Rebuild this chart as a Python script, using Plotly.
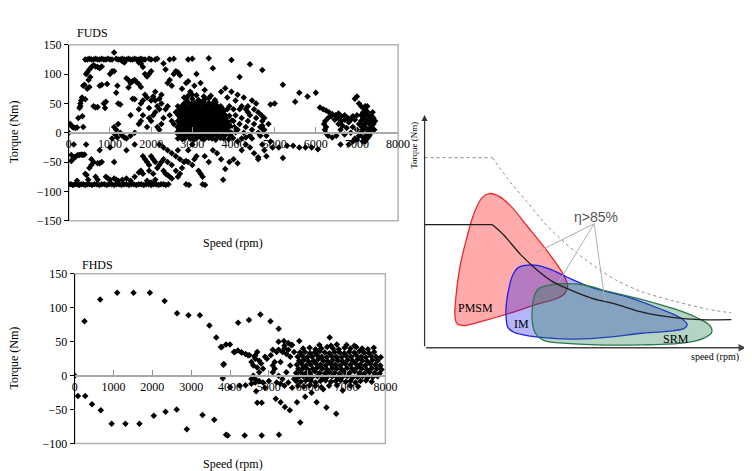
import plotly.graph_objects as go

W, H = 752, 471
SERIF = "Liberation Serif"
SANS = "Liberation Sans"

# ---------------- FUDS data (speed rpm, torque Nm) ----------------
fuds_top_row = [(400,125),(450,125),(500,126),(550,125),(600,125),(650,126),(700,125),(750,125),(800,126),
    (850,125),(900,125),(950,126),(1000,125),(1050,125),(1150,126),(1200,125),(1250,125),(1300,126),
    (1350,125),(1400,125),(1450,126),(1500,125),(1550,125),(1600,126),(1650,125),(1700,125),(1750,126),
    (1800,125),(1850,125),(1950,126),(2000,125),(2100,125),(2150,126),(2450,125),(2550,126),(2900,125),
    (3000,126),(1100,137)]
fuds_bottom_row = [(0,-88),(50,-88),(100,-89),(150,-88),(200,-88),(250,-89),(300,-88),(350,-88),(400,-89),
    (450,-88),(500,-88),(560,-89),(620,-88),(680,-88),(740,-89),(800,-88),(860,-88),(920,-89),(980,-88),
    (1040,-88),(1100,-89),(1160,-88),(1220,-88),(1280,-89),(1340,-88),(1400,-88),(1460,-89),(1520,-88),
    (1580,-88),(1640,-89),(1700,-88),(1760,-88),(1820,-89),(1880,-88),(1940,-88),(2000,-89),(2060,-88),
    (2120,-88),(2180,-89),(2240,-88),(2300,-88),(2360,-89),(2420,-88),(2850,-88),(2920,-89),(3250,-88),
    (3310,-89)]
fuds_left = [(0,0),(30,15),(60,12),(90,10),(120,9),(160,8),(200,9),(60,-38),(100,-45),(140,-42),(180,-40),
    (220,-38),(260,-38),(300,-37),(340,-38),(380,-37),(60,-48),(120,-20),(230,25),(260,42),(280,50),
    (300,55),(320,60),(280,45),(330,28),(350,10),(420,-20),(430,-72),(470,-80),(200,-82),(350,80),
    (380,82),(420,100),(450,103),(500,108),(550,112),(600,115),(650,113),(700,112),(750,110),(800,113),
    (480,90),(520,95),(400,57),(450,75),(500,78),(600,45),(650,43),(700,44),(750,80),(800,82),(850,50),
    (880,42),(900,53),(930,83),(1000,100),(1050,105),(1100,105),(1150,68),(1180,80),(1200,50),(1250,48),
    (1300,122),(1350,120),(1400,93),(1450,90),(1500,85),(1550,88),(1600,90),(1650,86),(1700,83),
    (1750,78),(1450,77),(1550,58),(1600,57),(1700,120),(1750,118),(1800,112),(1850,100),(1900,96),
    (1950,100),(2000,105),(1800,55),(1850,65),(1900,60),(1950,42),(2000,55),(2050,62),(2100,70),
    (2150,45),(2200,58),(2250,65),(2300,118),(2350,108),(2400,85),(2450,90),(2500,80),(2550,100),
    (2600,105),(2650,103),(2700,98),(2750,75),(2800,60),(2850,85),(2900,88),(2950,70),(3000,65),
    (3050,80),(3100,100),(3200,85),(3300,73),(3400,127),(3500,110),(3700,70),(3800,76),(3950,124),
    (4150,95),(4400,117),(4700,107),(5200,82),(5500,53),(5600,68),(5800,62),(6000,68),(5000,50),(4900,48)]
fuds_mid_left = [(1100,10),(1150,5),(1200,15),(1250,0),(1300,-5),(1350,-8),(1400,-10),(1050,-10),
    (1000,-25),(1100,-50),(1500,-5),(1600,-20),(1700,15),(1750,20),(1800,30),(1900,10),(1950,25),
    (2000,20),(2050,30),(2100,35),(2150,10),(2200,5),(2250,15),(2300,25),(2350,40),(2400,45),(2450,30),
    (2500,20),(2550,15),(2600,35),(2650,45),(2200,40),(2250,50),(2100,55),(1700,40),(1750,50),(1600,0),
    (1500,30),(1400,-30),(1130,-3),(1180,-8)]
fuds_negative = [(1300,-80),(1400,-78),(1500,-82),(1600,-75),(1700,-68),(1750,-65),(1800,-70),(1100,-78),
    (1150,-80),(1200,-82),(900,-75),(950,-78),(1000,-80),(700,-80),(650,-75),(600,-50),(700,-52),
    (750,-52),(800,-50),(500,-60),(550,-55),(400,-70),(550,-45),(750,-30),(1800,-40),(1850,-45),
    (1900,-50),(1950,-55),(2000,-40),(2050,-45),(2100,-50),(2150,-60),(2200,-55),(2250,-50),(2300,-65),
    (2350,-70),(2400,-72),(2450,-75),(2500,-78),(2200,-20),(2300,-25),(2400,-30),(2500,-35),(2600,-40),
    (2650,-30),(2700,-45),(2750,-60),(2800,-50),(2850,-48),(2900,-50),(3000,-55),(3050,-45),(3100,-40),
    (3150,-65),(3200,-70),(3250,-75),(3300,-40),(3400,-50),(3500,-30),(3600,-35),(3700,-45),(3750,-80),
    (3800,-62),(3900,-50),(4000,-45),(4100,-52),(4200,-30),(4300,-20),(4400,-25),(4450,-10),(4500,-35),
    (4600,-42),(4700,-20),(2100,-80),(2000,-85),(1900,-82),(1950,-65),(2050,-70),(2600,-65),(2700,-70),
    (2650,-75),(2500,-55),(2400,-50),(2300,-45),(2900,-30),(3000,-20),(4750,-30),(4800,-40),(4950,-25),
    (5100,-25),(5200,-43),(5300,-22),(5450,-22),(5600,-25),(5750,-25),(5900,-25),(6050,-28),(4600,-45),
    (4900,-15),(4800,-5),(4750,5),(4850,15)]
fuds_cluster = [
    (2650,-10),(2760,-11),(2830,-9),(2950,-10),(3040,-12),(3110,-9),(3230,-10),(3290,-11),(3400,-9),
    (3480,-10),(3570,-12),(3690,-9),(3760,-10),(3880,-11),(3990,-9),
    (2700,-5),(2790,-4),(2900,-6),(2980,-5),(3070,-3),(3160,-5),(3250,-6),(3340,-4),(3430,-5),(3530,-3),
    (3620,-5),(3710,-6),(3800,-4),(3920,-5),
    (2620,0),(2720,1),(2810,-1),(2880,0),(2960,2),(3050,0),(3130,-1),(3210,1),(3300,0),(3370,2),(3460,0),
    (3550,-1),(3640,1),(3730,0),(3840,2),(3950,0),(4050,1),
    (2680,5),(2760,6),(2850,4),(2930,5),(3010,7),(3090,5),(3170,4),(3260,6),(3330,5),(3420,4),(3510,6),
    (3590,5),(3680,7),(3770,5),(3860,4),
    (2640,10),(2730,11),(2820,9),(2900,10),(2990,12),(3070,10),(3150,9),(3240,11),(3310,10),(3400,9),
    (3490,11),(3580,10),(3660,12),(3750,10),(3830,9),(3920,11),(4020,10),
    (2690,15),(2780,16),(2860,14),(2950,15),(3030,17),(3120,15),(3200,14),(3280,16),(3370,15),(3450,14),
    (3540,16),(3620,15),(3710,17),(3800,15),(3890,14),
    (2650,20),(2740,21),(2830,19),(2910,20),(3000,22),(3080,20),(3160,19),(3250,21),(3330,20),(3420,19),
    (3500,21),(3590,20),(3670,22),(3760,20),(3850,19),(3960,21),
    (2700,25),(2790,26),(2870,24),(2960,25),(3040,27),(3130,25),(3210,24),(3300,26),(3380,25),(3470,24),
    (3550,26),(3640,25),(3730,27),(3820,25),
    (2660,30),(2750,31),(2840,29),(2930,30),(3010,32),(3100,30),(3180,29),(3270,31),(3350,30),(3440,29),
    (3520,31),(3610,30),(3700,32),(3790,30),(3900,29),
    (2720,35),(2810,36),(2890,34),(2980,35),(3070,37),(3150,35),(3240,34),(3320,36),(3410,35),(3500,34),
    (3580,36),(3670,35),(3760,37),
    (2680,40),(2770,41),(2860,39),(2950,40),(3030,42),(3120,40),(3200,39),(3290,41),(3370,40),(3460,39),
    (3540,41),(3630,40),(3720,42),(3850,40),
    (2740,45),(2830,46),(2920,44),(3000,45),(3090,47),(3170,45),(3260,44),(3340,46),(3430,45),(3510,44),
    (3600,46),(3690,45),
    (2800,50),(2900,52),(2980,49),(3060,51),(3150,50),(3230,52),(3320,49),(3400,51),(3490,50),(3570,52),
    (2850,57),(3000,58),(3150,56),(3300,57),(3400,59),(3550,56),(2900,63),(3100,64),(3280,62),(3450,63)]
fuds_cluster2 = [(4100,5),(4150,15),(4200,25),(4250,0),(4300,10),(4350,20),(4400,30),(4450,5),(4500,15),
    (4550,25),(4600,0),(4650,10),(4700,20),(4720,5),(4680,30),(4600,35),(4500,40),(4400,-5),(4300,-8),
    (4200,-10),(4150,40),(4050,30),(4000,20),(4100,-15),(4350,45),(4550,50),(4450,55),(4650,-5),
    (4700,12),(4750,25),(3850,60),(3900,45),(3950,70),(4000,40),(4050,55),(4100,65),(4200,45),(4250,60),
    (4300,40),(4350,35),(3800,30)]
fuds_right = [(6100,43),(6180,40),(6250,38),(6320,35),(6400,32),(6480,30),(6550,33),(6620,28),(6700,30),
    (6780,25),(6850,22),(6900,28),(6950,22),(7000,30),(6300,25),(6380,28),(6460,22),(6540,25),(6620,20),
    (6700,22),(6200,15),(6220,5),(6250,10),(6240,0),(6230,20),(6300,-5),(6400,-8),(6500,-5),(6600,5),
    (6550,15),(6650,12),(6700,-3),(6750,8),(6800,18),(6850,0),(6900,10),(6950,-10),(6600,-20),(6800,-20),
    (6900,-15),(7000,-12),(7050,-5),(7000,5),(7050,15),(7000,62),(6950,58),(7050,50),(7100,45),
    (7150,35),(7200,45),(7250,45),(7100,0),(7150,5),(7200,10),(7250,0),(7300,15),(7350,20),(7400,25),
    (7100,20),(7150,25),(7200,30),(7250,20),(7300,30),(7350,10),(7400,15),(7420,5),(7380,35),(7280,5),
    (7180,15),(7120,10),(7220,-5),(7300,-5),(7250,-10),(7200,-15),(7330,25),(7260,35),(7340,0),
    (7150,-8),(7200,22),(7280,28),(7360,28),(7100,30),(7440,20),(7220,38),(7180,40),(7140,-15)]

# ---------------- FHDS data ----------------
fhds_arcs = [(0,0),(252,80),(657,112),(1094,122),(1515,122),(1936,122),(2315,110),(2635,92),(2929,89),
    (3224,89),(3468,74),(3645,56),(3763,42),(3897,46),(3838,17),(3813,-4),
    (84,-30),(270,-30),(446,-42),(673,-51),(951,-71),(1306,-71),(1667,-71),(2037,-59),(2340,-53),
    (2626,-50),(2886,-79),(3291,-58),(3594,-65),(3897,-87),(3939,-88),(4377,-88),(4815,-88),(5260,-87),
    (4209,78),(4487,82),(4781,90),(5042,80),(5253,69),(5387,51),(5573,45),(5783,51),(6566,56),
    (3788,42),(3998,46),(4124,35),(4293,34),(4462,30),(4629,28),(3830,16),
    (4000,-17),(4250,-15),(4400,-14),(4550,-12),(4650,-10),(4672,-23),(4815,-40),(5177,-34),(5303,-39),
    (5412,-46),(5539,-51),(5724,-39),(5808,-69),(5934,-31),(6229,-39),(6482,-47),(6734,-56)]
fhds_mid = [(4950,25),(5050,30),(5100,38),(5150,10),(5200,35),(5250,38),(5300,20),(5350,35),(5400,40),
    (5450,32),(5500,38),(5550,28),(5600,45),(5650,35),(5200,-10),(5300,-12),(5400,-15),(5500,-10),
    (5600,-18),(5650,-5),(5100,5),(5250,0),(5450,5),(5550,15),(5350,-5),(5000,-8),(4900,-18),(5150,20),
    (5500,48),(5400,44),(5250,50),(5100,15),(4100,35),(4200,37),(4300,34),(4400,32),(4500,30),(4550,20),
    (4600,15),(4650,25),(4700,12),(4750,22),(4800,18),(4850,10),(4750,5),(4650,30),(4700,35),(4600,0),
    (4550,-5),(4650,-5),(4750,-8),(4850,-10),(4900,28),(4700,-40)]
fhds_cluster = [
    (5750,-15),(5900,-16),(6050,-14),(6200,-15),(6350,-17),(6550,-15),(6750,-14),(6900,-22),(7100,-15),
    (7300,-16),(6100,-25),(6400,-20),
    (5700,-8),(5820,-9),(5950,-7),(6080,-8),(6200,-10),(6330,-8),(6460,-7),(6600,-9),(6720,-8),(6850,-7),
    (6980,-9),(7100,-8),(7230,-10),(7360,-8),(7500,-7),(7650,-9),
    (5760,-2),(5880,-1),(6000,-3),(6120,-2),(6250,-1),(6380,-3),(6500,-2),(6630,-1),(6760,-3),(6890,-2),
    (7020,-1),(7150,-3),(7280,-2),(7410,-1),(7540,-3),(7680,-2),(7800,-1),
    (5700,4),(5820,5),(5940,3),(6060,4),(6190,6),(6310,4),(6440,3),(6560,5),(6690,4),(6820,3),(6950,5),
    (7080,4),(7210,6),(7330,4),(7460,3),(7590,5),(7720,4),(7850,3),
    (5760,10),(5880,11),(6000,9),(6130,10),(6250,12),(6370,10),(6500,9),(6630,11),(6750,10),(6880,9),
    (7010,11),(7140,10),(7270,12),(7390,10),(7520,9),(7650,11),(7780,10),(7900,9),
    (5720,16),(5840,17),(5960,15),(6080,16),(6210,18),(6330,16),(6460,15),(6590,17),(6710,16),(6840,15),
    (6970,17),(7100,16),(7230,18),(7350,16),(7480,15),(7610,17),(7740,16),(7870,15),
    (5780,22),(5900,23),(6020,21),(6150,22),(6270,24),(6400,22),(6520,21),(6650,23),(6780,22),(6900,21),
    (7030,23),(7160,22),(7290,24),(7410,22),(7540,21),(7670,23),(7800,22),
    (5740,28),(5860,29),(5990,27),(6110,28),(6240,30),(6360,28),(6490,27),(6610,29),(6740,28),(6870,27),
    (6990,29),(7120,28),(7250,30),(7380,28),(7500,27),(7630,29),(7760,28),(7880,27),
    (5800,34),(5930,35),(6060,33),(6180,34),(6310,36),(6440,34),(6560,33),(6690,35),(6820,34),(6940,33),
    (7070,35),(7200,34),(7330,36),(7450,34),(7580,33),(7710,35),
    (5880,40),(6050,41),(6200,39),(6350,40),(6500,42),(6650,40),(6800,39),(6950,41),(7100,40),(7250,42),
    (7400,40),(7550,39),(7700,41),(6300,45),(6600,44),(6750,46),(7000,45),(7200,44)]

axis_ticks_x = [0, 1000, 2000, 3000, 4000, 5000, 6000, 7000, 8000]
fuds_ticks_y = [-150, -100, -50, 0, 50, 100, 150]
fhds_ticks_y = [-100, -50, 0, 50, 100, 150]

# ---------------- Efficiency map sketch (arbitrary units) ----------------
pmsm_x = [66,76,88,105,121,135,143,146,143,135,115,88,61,41,33,31,32,36,43,51,59,66]
pmsm_y = [159,156,146,125,105,86,73,63,56,51,45,36,28,23,25,33,53,83,113,140,155,159]
im_x = [103,115,128,145,171,205,238,261,268,265,248,221,188,155,128,108,91,85,83,85,90,96,103]
im_y = [85,85,81,73,62,53,41,31,24,20,17,15,11,9,10,12,16,21,36,56,75,83,85]
srm_x = [125,138,161,188,221,255,278,291,293,285,265,221,175,138,121,113,110,110,113,118,125]
srm_y = [64,66,65,58,50,40,31,23,16,10,5,3,3,5,8,15,26,43,56,62,64]
envelope_x = [0,69,88,105,121,138,155,175,195,221,255,288,313]
envelope_y = [196,196,170,150,130,113,98,83,70,58,48,40,36]
rated_x = [0,69,81,98,115,131,148,171,195,221,255,281,313]
rated_y = [127,127,116,96,80,68,60,51,45,37,31,29,29]
eta_hub = (173, 128)
eta_targets = [(114, 98), (137, 68), (184, 48)]

fuds_groups = [fuds_top_row, fuds_bottom_row, fuds_left, fuds_mid_left, fuds_negative,
               fuds_cluster, fuds_cluster2, fuds_right]
fhds_groups = [fhds_arcs, fhds_mid, fhds_cluster]
fuds_speed = [p[0] for g in fuds_groups for p in g]
fuds_torque = [p[1] for g in fuds_groups for p in g]
fhds_speed = [p[0] for g in fhds_groups for p in g]
fhds_torque = [p[1] for g in fhds_groups for p in g]

def px(x):
    return x / W

def py(y):
    return 1 - y / H

fig = go.Figure()
mk = dict(symbol="diamond", size=5, color="black", line=dict(width=0))
fig.add_trace(go.Scatter(x=fuds_speed, y=fuds_torque, mode="markers", marker=mk,
                         xaxis="x", yaxis="y", showlegend=False, hoverinfo="skip"))
fig.add_trace(go.Scatter(x=fhds_speed, y=fhds_torque, mode="markers", marker=mk,
                         xaxis="x2", yaxis="y2", showlegend=False, hoverinfo="skip"))

# sketch regions
for xs, ys, fill, line in [(pmsm_x, pmsm_y, "rgba(255,0,0,0.33)", "rgb(235,40,40)"),
                           (im_x, im_y, "rgba(10,10,240,0.30)", "rgb(30,30,235)"),
                           (srm_x, srm_y, "rgba(40,130,80,0.34)", "rgb(40,120,80)")]:
    fig.add_trace(go.Scatter(x=xs, y=ys, mode="lines", fill="toself", fillcolor=fill,
                             line=dict(color=line, width=1.3, shape="spline", smoothing=1.0),
                             xaxis="x3", yaxis="y3", showlegend=False, hoverinfo="skip"))

def add_curve(xs, ys, color, width, dash):
    # flat part (straight) then the falling part (smoothed)
    fig.add_trace(go.Scatter(x=xs[:2], y=ys[:2], mode="lines",
                             line=dict(color=color, width=width, dash=dash),
                             xaxis="x3", yaxis="y3", showlegend=False, hoverinfo="skip"))
    fig.add_trace(go.Scatter(x=xs[1:], y=ys[1:], mode="lines",
                             line=dict(color=color, width=width, dash=dash, shape="spline", smoothing=0.8),
                             xaxis="x3", yaxis="y3", showlegend=False, hoverinfo="skip"))

add_curve(envelope_x, envelope_y, "rgb(140,140,140)", 1, "dot")
add_curve(rated_x, rated_y, "rgb(30,30,30)", 1.3, "solid")
for tx, ty in eta_targets:
    fig.add_trace(go.Scatter(x=[eta_hub[0], tx], y=[eta_hub[1], ty], mode="lines",
                             line=dict(color="rgb(175,175,175)", width=1),
                             xaxis="x3", yaxis="y3", showlegend=False, hoverinfo="skip"))

tickfont = dict(family=SERIF, size=12, color="black")
fuds_dom_y = [py(212), py(30.7)]
fhds_dom_y = [py(441.7), py(266.7)]
fig.update_layout(
    width=W, height=H, margin=dict(l=0, r=0, t=0, b=0),
    paper_bgcolor="white", plot_bgcolor="white",
    xaxis=dict(domain=[px(59), px(395)], range=[0, 8000], anchor="free",
               position=(fuds_dom_y[0] + fuds_dom_y[1]) / 2,
               tickvals=axis_ticks_x, ticks="inside", ticklen=5, tickcolor="#909090",
               showline=True, linecolor="#a8a8a8", linewidth=2, showgrid=False, zeroline=False,
               tickfont=tickfont),
    yaxis=dict(domain=fuds_dom_y, range=[-150, 150], anchor="x", tickvals=fuds_ticks_y,
               ticks="outside", ticklen=4, tickcolor="black", showline=True, linecolor="black",
               linewidth=1, showgrid=False, zeroline=False, tickfont=tickfont),
    xaxis2=dict(domain=[px(65), px(382)], range=[0, 8000], anchor="free",
                position=fhds_dom_y[0] + 0.4 * (fhds_dom_y[1] - fhds_dom_y[0]),
                tickvals=axis_ticks_x, ticks="inside", ticklen=5, tickcolor="#909090",
                showline=True, linecolor="#a8a8a8", linewidth=2, showgrid=False, zeroline=False,
                tickfont=tickfont),
    yaxis2=dict(domain=fhds_dom_y, range=[-100, 150], anchor="x2", tickvals=fhds_ticks_y,
                ticks="outside", ticklen=4, tickcolor="black", showline=True, linecolor="black",
                linewidth=1, showgrid=False, zeroline=False, tickfont=tickfont),
    xaxis3=dict(domain=[px(422), px(750)], range=[0, 328], visible=False, anchor="y3"),
    yaxis3=dict(domain=[py(343), py(105)], range=[0, 238], visible=False, anchor="x3"),
)

shapes = []
for xr, yr in [("x domain", "y domain"), ("x2 domain", "y2 domain")]:
    shapes.append(dict(type="rect", xref=xr, yref=yr, x0=0, x1=1, y0=0, y1=1,
                       line=dict(color="#b4b4b4", width=1.5), layer="below"))
fig.update_layout(shapes=shapes)

ann = []
def txt(text, x, y, size=12, family=SERIF, angle=0, xanchor="center", color="black", **kw):
    ann.append(dict(text=text, x=x, y=y, xref=kw.get("xref", "paper"), yref=kw.get("yref", "paper"),
                    showarrow=False, textangle=angle, xanchor=xanchor, yanchor="middle",
                    font=dict(family=family, size=size, color=color)))

txt("FUDS", px(65), py(19), xanchor="left")
txt("FHDS", px(70), py(258), xanchor="left")
txt("Torque (Nm)", px(3), py(120), angle=-90)
txt("Torque (Nm)", px(3), py(353), angle=-90)
txt("Speed (rpm)", px(227), py(235))
txt("Speed (rpm)", px(227), py(463))
txt("Torque (Nm)", px(411), py(134), size=9, angle=-90)
txt("speed (rpm)", px(718), py(352), size=10)
txt("η>85%", 175, 135, size=14, family=SANS, color="#555555", xref="x3", yref="y3")
txt("PMSM", 52, 41, xref="x3", yref="y3")
txt("IM", 99, 25, xref="x3", yref="y3")
txt("SRM", 257, 9, xref="x3", yref="y3")

# sketch axes with arrows
ann.append(dict(x=0, y=240, ax=0, ay=0, xref="x3", yref="y3", axref="x3", ayref="y3", text="",
                showarrow=True, arrowhead=2, arrowsize=1, arrowwidth=1.2, arrowcolor="#333333"))
ann.append(dict(x=328, y=0, ax=0, ay=0, xref="x3", yref="y3", axref="x3", ayref="y3", text="",
                showarrow=True, arrowhead=2, arrowsize=1, arrowwidth=1.5, arrowcolor="#444444"))
fig.update_layout(annotations=ann)

fig.write_html("out.html")
